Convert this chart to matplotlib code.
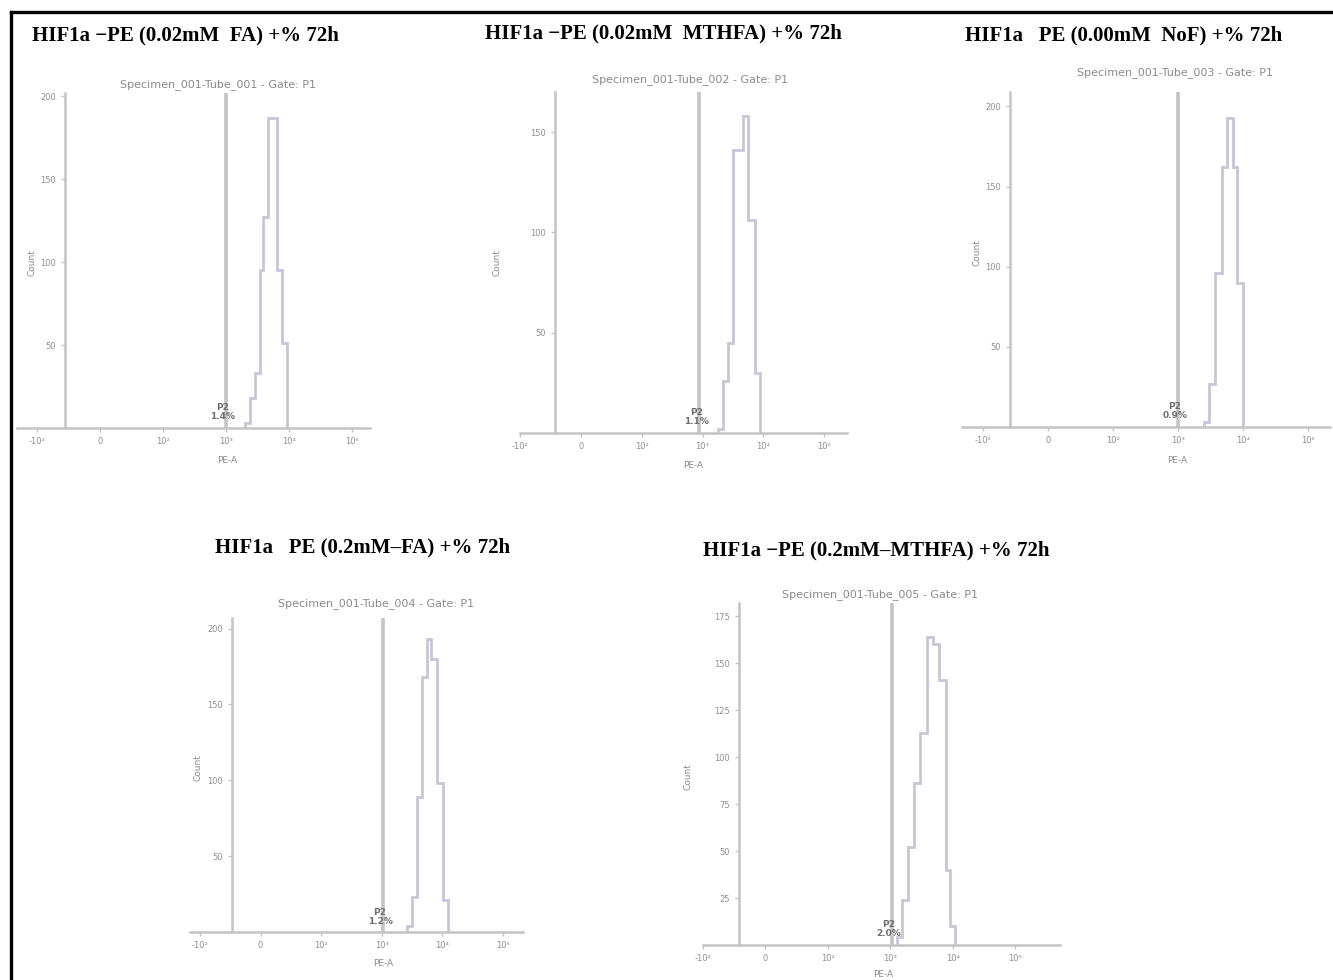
import matplotlib.pyplot as plt
from matplotlib.lines import Line2D

plt.rcParams['font.family'] = ['Liberation Serif', 'DejaVu Serif']

# ============================================================
# DATOS
# ============================================================
titulos = [
    'HIF1a −PE (0.02mM  FA) +% 72h',
    'HIF1a −PE (0.02mM  MTHFA) +% 72h',
    'HIF1a   PE (0.00mM  NoF) +% 72h',
    'HIF1a   PE (0.2mM–FA) +% 72h',
    'HIF1a −PE (0.2mM–MTHFA) +% 72h',
]
subtitulos = [
    'Specimen_001-Tube_001 - Gate: P1',
    'Specimen_001-Tube_002 - Gate: P1',
    'Specimen_001-Tube_003 - Gate: P1',
    'Specimen_001-Tube_004 - Gate: P1',
    'Specimen_001-Tube_005 - Gate: P1',
]
x_ticks = [0, 1, 2, 3, 4, 5]
x_labels = ['-10²', '0', '10²', '10³', '10⁴', '10⁵']
y_ticks = [
    [50, 100, 150, 200],
    [50, 100, 150],
    [50, 100, 150, 200],
    [50, 100, 150, 200],
    [25, 50, 75, 100, 125, 150, 175],
]
y_max = [202, 170, 209, 207, 182]

# bordes de los bins (log10 PE-A) y conteos de cada histograma
bordes = [
    [3.30, 3.38, 3.46, 3.54, 3.59, 3.67, 3.81, 3.89, 3.97],
    [3.26, 3.34, 3.42, 3.50, 3.66, 3.75, 3.86, 3.94],
    [3.40, 3.48, 3.57, 3.68, 3.75, 3.85, 3.91, 4.00],
    [3.42, 3.50, 3.58, 3.66, 3.74, 3.82, 3.91, 4.01, 4.09],
    [3.10, 3.19, 3.28, 3.38, 3.48, 3.58, 3.68, 3.78, 3.89, 3.96, 4.04],
]
conteos = [
    [3, 18, 33, 95, 127, 187, 95, 51],
    [2, 26, 45, 141, 158, 106, 30],
    [3, 27, 96, 162, 193, 162, 90],
    [4, 23, 89, 168, 193, 180, 98, 21],
    [4, 24, 52, 86, 113, 164, 160, 141, 40, 10],
]
compuerta = [3.0, 2.95, 3.0, 3.02, 3.02]
etiqueta_compuerta = ['P2\n1.4%', 'P2\n1.1%', 'P2\n0.9%', 'P2\n1.2%', 'P2\n2.0%']

# ============================================================
# DISPOSICIÓN (en píxeles de la imagen)
# ============================================================
W, H = 1333, 980
# (izq, arriba, der, abajo), px del tick 0, px por década, px del eje y
cajas = [
    ((17, 93, 370, 428), 37, 63.0, 65),
    ((520, 92, 847, 433), 503, 64.0, 540),
    ((962, 92, 1330, 427), 983, 65.0, 1010),
    ((190, 618, 523, 932), 200, 60.6, 232),
    ((703, 603, 1060, 945), 685, 65.6, 723),
]
pos_titulo = [(32, 35), (485, 33), (965, 35), (215, 547), (703, 550)]
pos_sub = [(218, 85), (690, 80), (1175, 73), (376, 604), (880, 595)]
pos_ylabel = [(32, 263), (497, 263), (977, 253), (198, 768), (688, 777)]
pos_xlabel = [(227, 460), (693, 465), (1177, 460), (383, 963), (883, 974)]

gris = '#c4c4c4'
gris_txt = '#8e8e8e'
lila = '#c6c6d8'

fig = plt.figure(figsize=(W / 100, H / 100), dpi=100)


def fx(px):
    return px / W


def fy(py):
    return 1 - py / H


for i in range(5):
    (l, t, r, b), t0, dec, sp = cajas[i]
    ax = fig.add_axes([fx(l), fy(b), (r - l) / W, (b - t) / H])
    ax.set_xlim((l - t0) / dec, (r - t0) / dec)
    ax.set_ylim(0, y_max[i])

    ax.stairs(conteos[i], bordes[i], color=lila, linewidth=2.0)
    ax.axvline(compuerta[i], color=gris, linewidth=2.6)
    ax.text(compuerta[i] - 0.05, y_max[i] * 0.02, etiqueta_compuerta[i],
            ha='center', va='bottom', fontsize=6.5, color='#6e6e6e',
            family='DejaVu Sans', fontweight='bold', linespacing=1.0)

    for s in ['top', 'right']:
        ax.spines[s].set_visible(False)
    ax.spines['left'].set_position(('data', (sp - t0) / dec))
    ax.spines['left'].set_color(gris)
    ax.spines['bottom'].set_color(gris)
    ax.spines['left'].set_linewidth(1.8)
    ax.spines['bottom'].set_linewidth(1.8)
    ax.set_xticks(x_ticks)
    ax.set_xticklabels(x_labels)
    ax.set_yticks(y_ticks[i])
    ax.tick_params(colors=gris, labelcolor=gris_txt, labelsize=6, length=3,
                   width=1)
    for lab in ax.get_xticklabels() + ax.get_yticklabels():
        lab.set_family('DejaVu Sans')

    fig.text(fx(pos_titulo[i][0]), fy(pos_titulo[i][1]), titulos[i],
             fontsize=15, fontweight='bold', ha='left', va='center')
    fig.text(fx(pos_sub[i][0]), fy(pos_sub[i][1]), subtitulos[i],
             fontsize=8, color='#8a8a8a', ha='center', va='center',
             family='DejaVu Sans')
    fig.text(fx(pos_ylabel[i][0]), fy(pos_ylabel[i][1]), 'Count',
             fontsize=6.5, color='#8a8a8a', rotation=90, ha='center',
             va='center', family='DejaVu Sans')
    fig.text(fx(pos_xlabel[i][0]), fy(pos_xlabel[i][1]), 'PE-A',
             fontsize=6.5, color='#8a8a8a', ha='center', va='center',
             family='DejaVu Sans')

# marco de la figura (solo arriba e izquierda se ven)
fig.add_artist(Line2D([fx(11), 1], [fy(12), fy(12)], color='black', linewidth=2.4))
fig.add_artist(Line2D([fx(11), fx(11)], [fy(12), 0], color='black', linewidth=2.4))

fig.savefig('out.png', dpi=100)
